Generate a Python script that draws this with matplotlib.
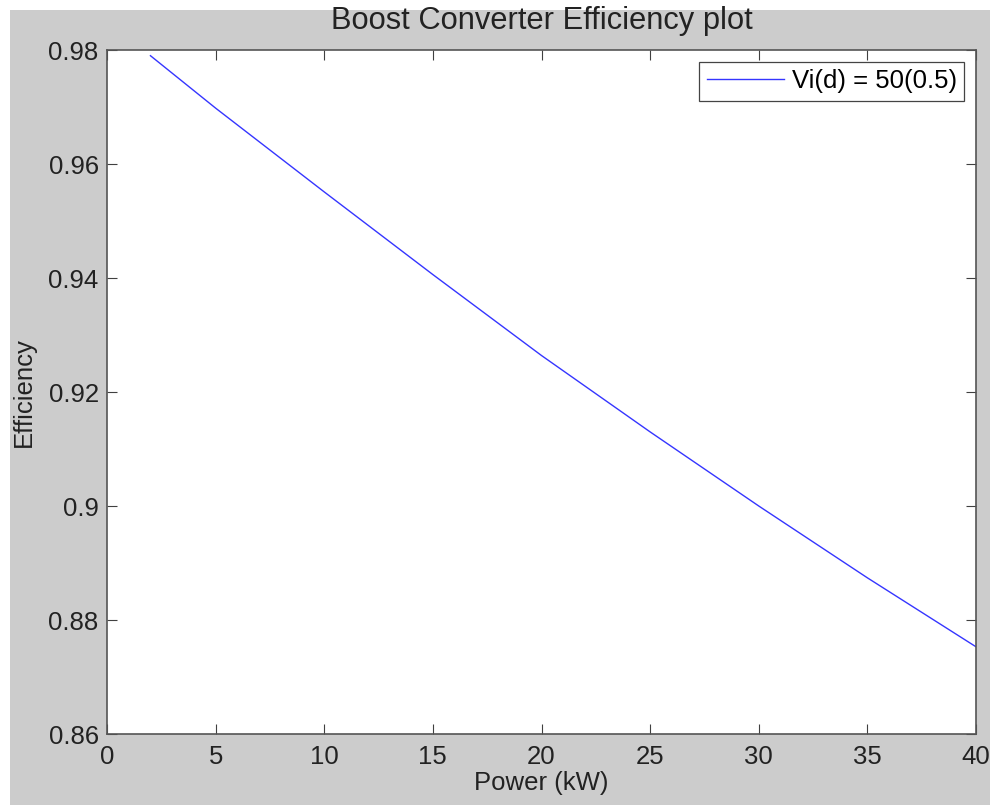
import matplotlib
matplotlib.use("Agg")
import matplotlib.pyplot as plt
from matplotlib.patches import Rectangle

# Data
power_kw = [2, 5, 10, 15, 20, 25, 30, 35, 40]
efficiency = [0.979, 0.9698, 0.9551, 0.9406, 0.9264, 0.9130, 0.9000, 0.8874, 0.8753]
x_ticks = [0, 5, 10, 15, 20, 25, 30, 35, 40]
y_ticks = [0.86, 0.88, 0.90, 0.92, 0.94, 0.96, 0.98]
y_tick_labels = ["0.86", "0.88", "0.9", "0.92", "0.94", "0.96", "0.98"]

plt.rcParams['font.family'] = ['Liberation Sans', 'DejaVu Sans']
plt.rcParams['font.size'] = 18.5

fig = plt.figure(figsize=(9.9, 8.05), dpi=100, facecolor='white')
# MATLAB-like gray figure panel, offset by a thin white margin
fig.patches.append(Rectangle((10 / 990, 0), 980 / 990, 795 / 805,
                             transform=fig.transFigure, facecolor='#cccccc',
                             edgecolor='none', zorder=-10))

ax = fig.add_axes([107 / 990, 71 / 805, 869 / 990, 684 / 805])
ax.set_facecolor('white')
ax.plot(power_kw, efficiency, color='#3535ff', lw=1.0, label='Vi(d) = 50(0.5)')

ax.set_xlim(0, 40)
ax.set_ylim(0.86, 0.98)
ax.set_xticks(x_ticks)
ax.set_yticks(y_ticks)
ax.set_yticklabels(y_tick_labels)
ax.tick_params(direction='in', length=7, width=0.8, color='#404040',
               top=True, right=True, labelcolor='#222222')
ax.tick_params(axis='x', pad=8)
ax.tick_params(axis='y', pad=6)
for sp in ax.spines.values():
    sp.set_color('#555555')
    sp.set_linewidth(1.2)

ax.set_title("Boost Converter Efficiency plot", pad=15, color='#222222')
ax.set_xlabel("Power (kW)", labelpad=1.5, color='#222222')
ax.set_ylabel("Efficiency", labelpad=9, color='#222222')

leg = ax.legend(loc='upper right', handlelength=3.0, fancybox=False,
                framealpha=1, edgecolor='#444444', borderpad=0.3,
                handletextpad=0.3, borderaxespad=0.45)
leg.get_frame().set_linewidth(0.9)

fig.savefig("out.png", dpi=100, facecolor=fig.get_facecolor())
